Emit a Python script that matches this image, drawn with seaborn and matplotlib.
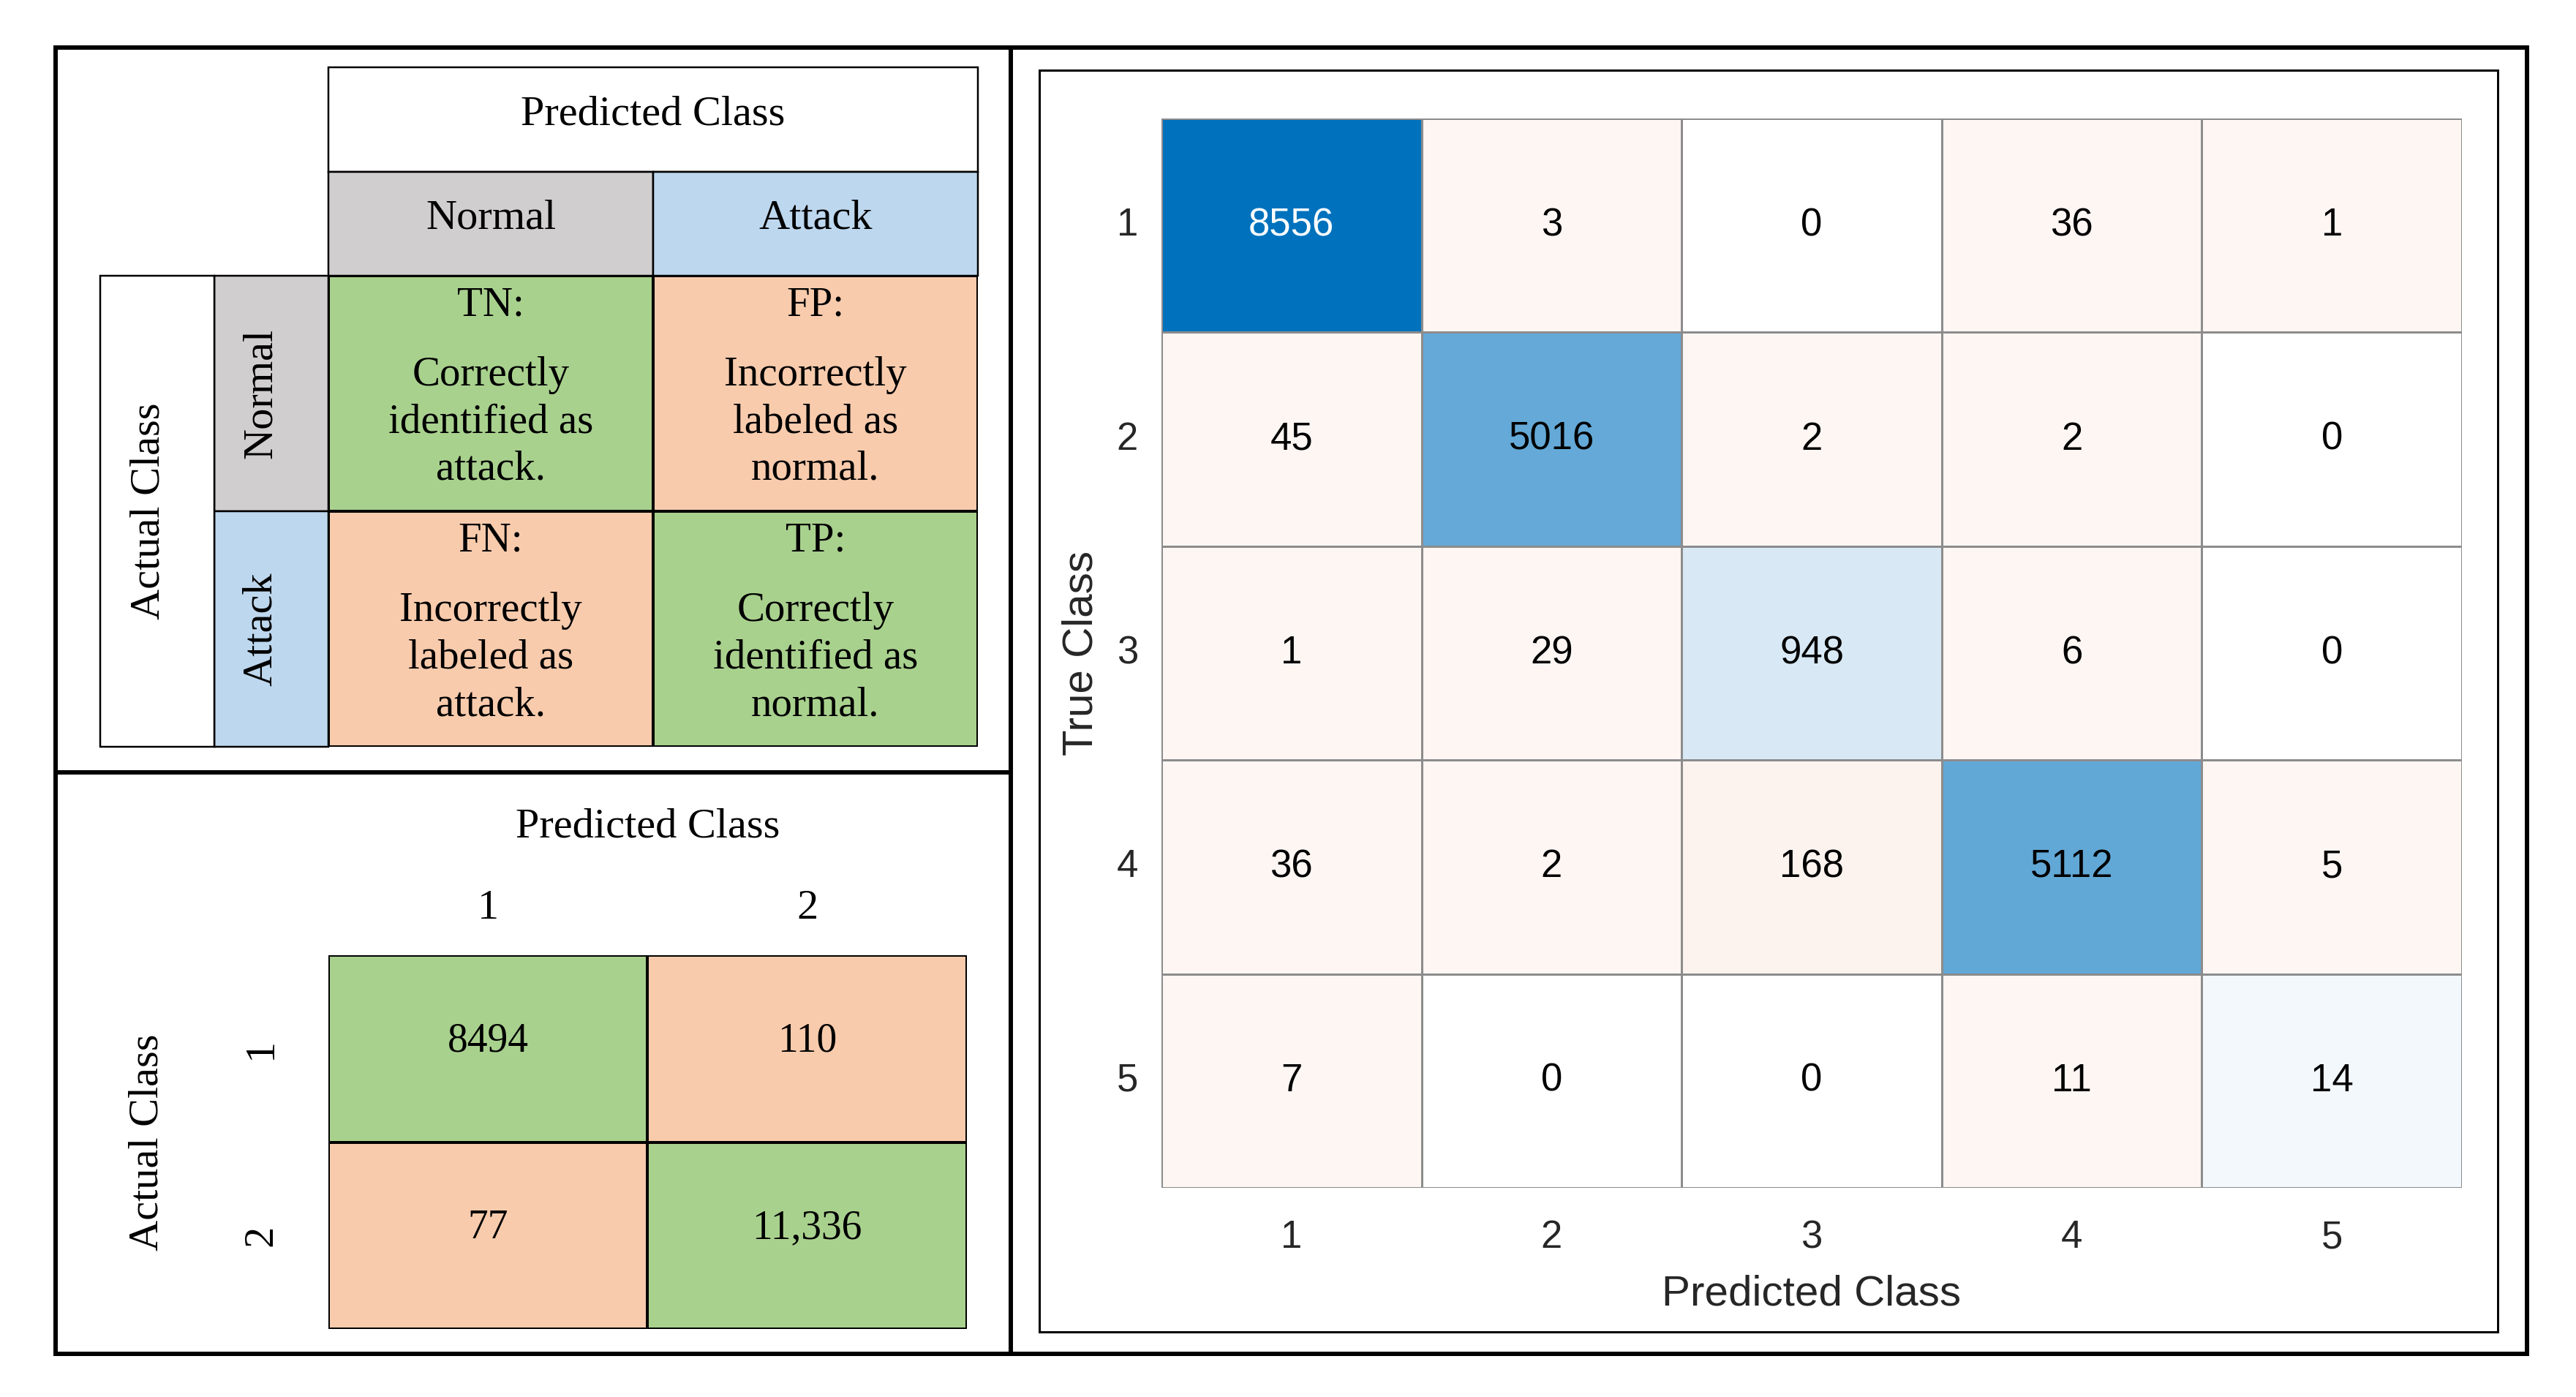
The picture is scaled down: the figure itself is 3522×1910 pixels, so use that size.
import numpy as np
import matplotlib
matplotlib.use("Agg")
import matplotlib.pyplot as plt
from matplotlib.colors import ListedColormap, LinearSegmentedColormap
from matplotlib.patches import Rectangle
import seaborn as sns

# ---------------- data ----------------
concept_axis = ["Normal", "Attack"]
concept_codes = [["TN:", "FP:"], ["FN:", "TP:"]]
concept_text = [
    [["Correctly", "identified as", "attack."], ["Incorrectly", "labeled as", "normal."]],
    [["Incorrectly", "labeled as", "attack."], ["Correctly", "identified as", "normal."]],
]
binary_labels = ["1", "2"]
binary_cm = [[8494, 110], [77, 11336]]
binary_text = [["8494", "110"], ["77", "11,336"]]

multi_labels = ["1", "2", "3", "4", "5"]
multi_cm = [
    [8556, 3, 0, 36, 1],
    [45, 5016, 2, 2, 0],
    [1, 29, 948, 6, 0],
    [36, 2, 168, 5112, 5],
    [7, 0, 0, 11, 14],
]

# ---------------- style ----------------
W, H = 3522, 1910
DPI = 100
GREEN = "#A9D18E"
PEACH = "#F8CBAD"
GRAY = "#D0CECE"
LBLUE = "#BDD7EE"
SERIF = ["Liberation Serif", "DejaVu Serif"]
SANS = ["Liberation Sans", "DejaVu Sans"]
PX = 72.0 / DPI  # points per pixel

fig = plt.figure(figsize=(W / DPI, H / DPI), dpi=DPI)
fig.patch.set_facecolor("white")


def add_ax(x0, y0, x1, y1):
    return fig.add_axes([x0 / W, 1 - y1 / H, (x1 - x0) / W, (y1 - y0) / H])


# ---------------- top-left: concept matrix ----------------
ax1 = add_ax(449, 376.6, 1337, 1021)
kind = np.array([[0, 1], [1, 0]])
sns.heatmap(kind, ax=ax1, cmap=ListedColormap([GREEN, PEACH]), cbar=False,
            linewidths=2.5 * PX, linecolor="black", xticklabels=False,
            yticklabels=False, vmin=0, vmax=1)
ax1.tick_params(length=0)
hh = 0.441   # header row height in data units
cw = 0.351   # label column width in data units
lw_t = 2.5 * PX
# header boxes
ax1.add_patch(Rectangle((0, -2 * hh), 2, hh, facecolor="white", edgecolor="black",
                        lw=lw_t, clip_on=False))
for j, (lab, col) in enumerate(zip(concept_axis, [GRAY, LBLUE])):
    ax1.add_patch(Rectangle((j, -hh), 1, hh, facecolor=col, edgecolor="black",
                            lw=lw_t, clip_on=False))
    ax1.text(j + 0.5, -0.199, lab, ha="center", va="baseline", fontsize=42,
             family=SERIF, clip_on=False)
    ax1.add_patch(Rectangle((-cw, j), cw, 1, facecolor=col, edgecolor="black",
                            lw=lw_t, clip_on=False))
    ax1.text(-0.207, j + 0.5, lab, ha="center", va="center", rotation=90,
             fontsize=42, family=SERIF, clip_on=False)
ax1.text(1.0, -0.640, "Predicted Class", ha="center", va="baseline", fontsize=42,
         family=SERIF, clip_on=False)
ax1.add_patch(Rectangle((-2 * cw, 0), cw, 2, facecolor="white", edgecolor="black",
                        lw=lw_t, clip_on=False))
ax1.text(-0.554, 1.0, "Actual Class", ha="center", va="center", rotation=90,
         fontsize=42, family=SERIF, clip_on=False)
for i in range(2):
    for j in range(2):
        ax1.text(j + 0.5, i + 0.170, concept_codes[i][j], ha="center", va="baseline",
                 fontsize=41, family=SERIF)
        for k, line in enumerate(concept_text[i][j]):
            ax1.text(j + 0.5, i + 0.467 + 0.2 * k, line, ha="center",
                     va="baseline", fontsize=41, family=SERIF)

# ---------------- bottom-left: binary matrix ----------------
ax2 = add_ax(449, 1306, 1322, 1817)
sns.heatmap(kind, ax=ax2, cmap=ListedColormap([GREEN, PEACH]), cbar=False,
            linewidths=2.5 * PX, linecolor="black", xticklabels=False,
            yticklabels=False, vmin=0, vmax=1,
            annot=np.array(binary_text), fmt="",
            annot_kws={"fontsize": 40, "family": SERIF, "color": "black"})
ax2.tick_params(length=0)
for t in ax2.texts:
    x, y = t.get_position()
    t.set_position((x, y - 0.04))
ax2.text(1.0, -0.633, "Predicted Class", ha="center", va="baseline", fontsize=42,
         family=SERIF, clip_on=False)
for j, lab in enumerate(binary_labels):
    ax2.text(j + 0.5, -0.195, lab, ha="center", va="baseline", fontsize=42,
             family=SERIF, clip_on=False)
    ax2.text(-0.21, j + 0.5, lab, ha="center", va="center", rotation=90,
             fontsize=42, family=SERIF, clip_on=False)
ax2.text(-0.567, 1.0, "Actual Class", ha="center", va="center", rotation=90,
         fontsize=42, family=SERIF, clip_on=False)

# ---------------- right: 5-class confusion chart ----------------
ax3 = add_ax(1588, 162, 3366, 1624)
cm = np.array(multi_cm)
vmax = cm.max()
n = cm.shape[0]
diag = np.eye(n, dtype=bool)


def tint(base, t):
    base = np.array(base) / 255.0
    return tuple(1 - t * (1 - base))


blue_base = (0, 114, 189)
red_base = (217, 83, 25)
cmap_blue = LinearSegmentedColormap.from_list("b", [tint(blue_base, 0.05), tint(blue_base, 1.0)])
cmap_blue.set_under("white")
cmap_red = LinearSegmentedColormap.from_list("r", [tint(red_base, 0.05), tint(red_base, 1.0)])
cmap_red.set_under("white")

common = dict(ax=ax3, cbar=False, vmin=0.5, vmax=vmax, linewidths=3 * PX,
              linecolor="#8c8c8c", annot=True, fmt="d",
              annot_kws={"fontsize": 38, "family": SANS},
              xticklabels=multi_labels, yticklabels=multi_labels)
sns.heatmap(cm, mask=~diag, cmap=cmap_blue, **common)
sns.heatmap(cm, mask=diag, cmap=cmap_red, **common)
for t in ax3.texts:
    if t.get_text() != "8556":
        t.set_color("black")
    else:
        t.set_color("white")

ax3.tick_params(axis="x", length=0, pad=31, labelsize=38, labelcolor="#262626")
ax3.tick_params(axis="y", length=0, pad=23, labelsize=38, labelcolor="#262626")
for lab in ax3.get_xticklabels() + ax3.get_yticklabels():
    lab.set_family(SANS)
    lab.set_rotation(0)
ax3.set_xlabel("Predicted Class", fontsize=42, family=SANS, color="#262626")
ax3.set_ylabel("True Class", fontsize=42, family=SANS, color="#262626")
ax3.xaxis.label.set_va("center")
ax3.yaxis.label.set_va("center")
ax3.xaxis.set_label_coords(0.5, -(1769 - 1624) / 1462)
ax3.yaxis.set_label_coords((1478 - 1588) / 1778, 0.5)

# ---------------- frames ----------------
fr = fig.add_axes([0, 0, 1, 1])
fr.set_xlim(0, W)
fr.set_ylim(H, 0)
fr.axis("off")
fr.add_patch(Rectangle((76, 65), 3455 - 76, 1851 - 65, fill=False, edgecolor="black",
                       lw=6 * PX))
fr.plot([1382, 1382], [65, 1851], color="black", lw=6 * PX, solid_capstyle="butt")
fr.plot([76, 1382], [1056, 1056], color="black", lw=6 * PX, solid_capstyle="butt")
fr.add_patch(Rectangle((1421, 96), 3415 - 1421, 1821 - 96, fill=False,
                       edgecolor="black", lw=3 * PX))

fig.savefig("out.png", dpi=DPI, facecolor="white")
